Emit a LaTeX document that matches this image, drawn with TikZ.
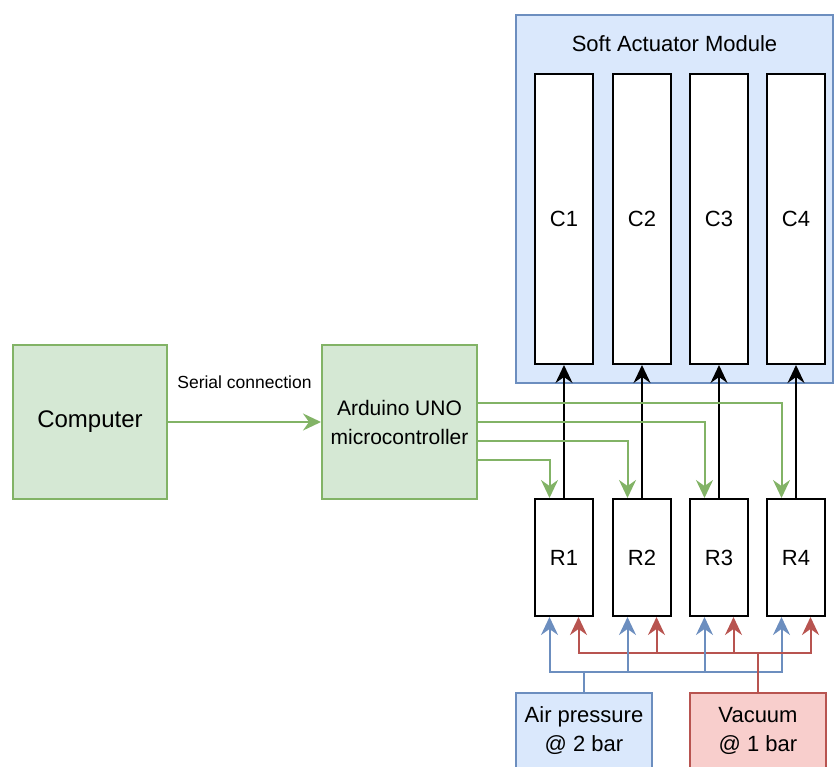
\documentclass[tikz,border=0pt]{standalone}
\usepackage{fontspec}
\setmainfont{Liberation Sans}
\usetikzlibrary{arrows.meta}

\definecolor{verdeFondo}{HTML}{D5E8D4}
\definecolor{verdeBorde}{HTML}{82B366}
\definecolor{azulFondo}{HTML}{DAE8FC}
\definecolor{azulBorde}{HTML}{6C8EBF}
\definecolor{rojoFondo}{HTML}{F8CECC}
\definecolor{rojoBorde}{HTML}{B85450}

\begin{document}
\begin{tikzpicture}[
    x=1pt, y=-1pt,
    caja/.style={draw, line width=2pt, inner sep=0pt, align=center, font=\fontsize{22}{29}\selectfont},
    green_box/.style={caja, draw=verdeBorde, fill=verdeFondo, minimum width=154pt, minimum height=154pt},
    chamber/.style={caja, draw=black, fill=white, minimum width=58pt, minimum height=290pt},
    valve/.style={caja, draw=black, fill=white, minimum width=58pt, minimum height=117pt},
    supply/.style={caja, minimum width=136pt, minimum height=76pt},
    tip/.style={-{Stealth[length=18pt, width=17pt, inset=6pt]}, line width=2pt},
    label_style/.style={font=\fontsize{17.5}{20}\selectfont}
]

% Marco de la figura
\clip (0,0) rectangle (834,767);

% ==========================
% CONTROL (PC + Arduino)
% ==========================
\node[green_box, font=\fontsize{24}{29}\selectfont] (computer) at (90, 422) {Computer};
\node[green_box, minimum width=155pt, font=\fontsize{21}{29}\selectfont] (arduino) at (399.5, 422) {Arduino UNO\\microcontroller};

\draw[tip, verdeBorde] (computer) -- (arduino)
    node[midway, yshift=40pt, label_style, text=black] {Serial connection};

% ==========================
% MODULO ACTUADOR
% ==========================
\node[caja, draw=azulBorde, fill=azulFondo, minimum width=317pt, minimum height=368pt] (module) at (674.5, 199) {};
\node[caja, draw=none] (module_title) at (674.5, 44) {Soft Actuator Module};

% Camaras C y valvulas R
\foreach \i/\x in {1/564, 2/642, 3/719, 4/796} {
    \node[chamber] (C\i) at (\x, 219) {C\i};
    \node[valve] (R\i) at (\x, 557.5) {R\i};
    \draw[tip, black] (R\i.north) -- (C\i.south);
}

% Senales de control hacia cada valvula
\foreach \i/\dy in {4/19, 3/0, 2/-19, 1/-38} {
    \draw[tip, verdeBorde] ([yshift=\dy pt]arduino.east) -| ([xshift=-14.5pt]R\i.north);
}

% ==========================
% ALIMENTACION
% ==========================
\node[supply, draw=azulBorde, fill=azulFondo] (air) at (584, 731) {Air pressure\\@ 2 bar};
\node[supply, draw=rojoBorde, fill=rojoFondo] (vacuum) at (758, 731) {Vacuum\\@ 1 bar};

\foreach \i in {1,...,4} {
    \draw[tip, azulBorde] (air.north) -- ++(0,-20) -| ([xshift=-14.5pt]R\i.south);
    \draw[tip, rojoBorde] (vacuum.north) -- ++(0,-39) -| ([xshift=14.5pt]R\i.south);
}

\end{tikzpicture}
\end{document}
